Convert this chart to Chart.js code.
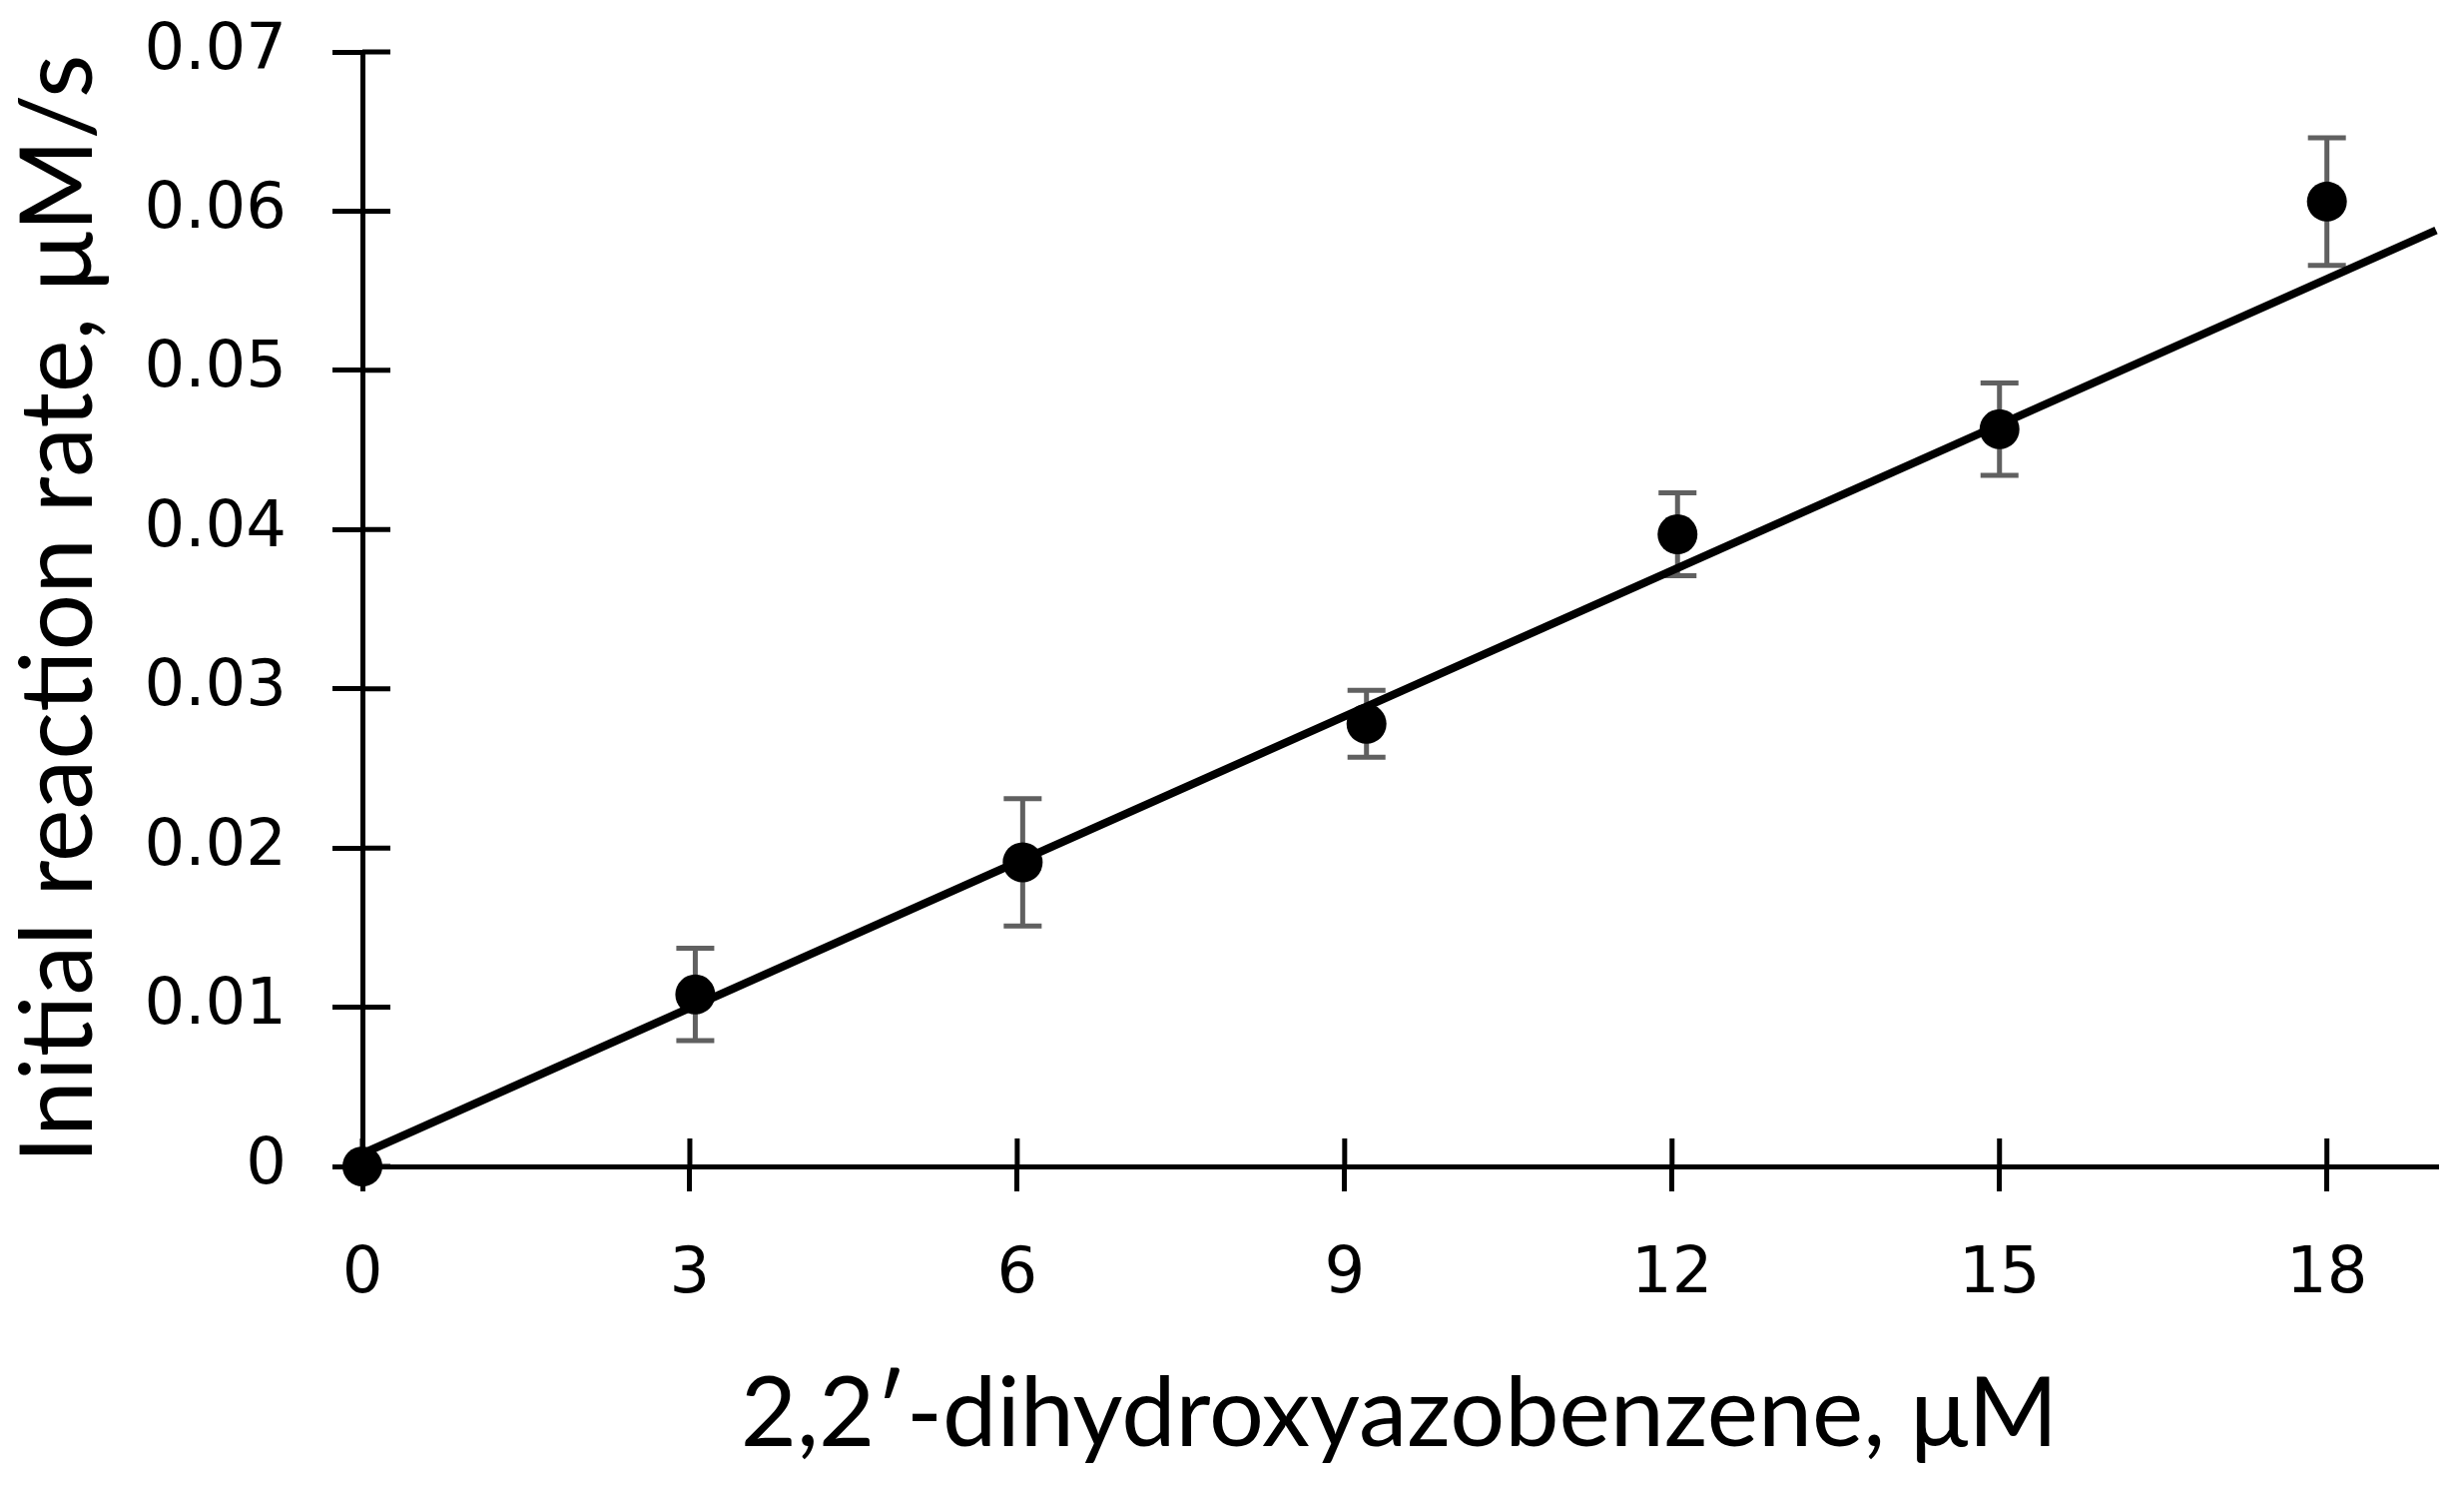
<!DOCTYPE html>
<html>
<head>
<meta charset="utf-8">
<script src="https://cdn.jsdelivr.net/npm/chart.js@4.4.1/dist/chart.umd.min.js"></script>
<style>
  body { margin: 0; background: #fff; }
  #wrap { width: 2468px; height: 1488px; }
</style>
</head>
<body>
<div id="wrap"><canvas id="chart" width="2468" height="1488"></canvas></div>
<script>
// measured points (concentration, rate) and their error bars
const xValues = [0, 3.05, 6.05, 9.2, 12.05, 15.0, 18.0];
const yValues = [0, 0.0108, 0.0191, 0.0278, 0.0397, 0.0463, 0.0606];
const yErrors = [0, 0.0029, 0.0040, 0.0021, 0.0026, 0.0029, 0.0040];

// fitted straight line, two ends
const trendX = [0, 19];
const trendY = [0.0008, 0.0588];

const xTicks = [0, 3, 6, 9, 12, 15, 18];
const yTicks = [0, 0.01, 0.02, 0.03, 0.04, 0.05, 0.06, 0.07];
const yTickLabels = ['0', '0.01', '0.02', '0.03', '0.04', '0.05', '0.06', '0.07'];

const xTitle = '2,2\u2032-dihydroxyazobenzene, \u03bcM';
const yTitle = 'Initial reaction rate, \u03bcM/s';

const TICK = 28;

// inner half of the crossing tick marks
const crossTicks = {
  id: 'crossTicks',
  beforeDatasetsDraw(chart) {
    const ctx = chart.ctx;
    const xs = chart.scales.x, ys = chart.scales.y;
    ctx.save();
    ctx.strokeStyle = '#000';
    ctx.lineWidth = 5;
    ctx.beginPath();
    xTicks.forEach(v => {
      const px = xs.getPixelForValue(v);
      ctx.moveTo(px, ys.bottom);
      ctx.lineTo(px, ys.bottom - TICK);
    });
    yTicks.forEach(v => {
      const py = ys.getPixelForValue(v);
      ctx.moveTo(xs.left, py);
      ctx.lineTo(xs.left + TICK, py);
    });
    ctx.stroke();
    ctx.restore();
  }
};

const errorBars = {
  id: 'errorBars',
  beforeDatasetsDraw(chart) {
    const ctx = chart.ctx;
    const xs = chart.scales.x, ys = chart.scales.y;
    ctx.save();
    ctx.strokeStyle = '#606060';
    ctx.lineWidth = 5;
    for (let i = 0; i < xValues.length; i++) {
      if (!yErrors[i]) continue;
      const px = xs.getPixelForValue(xValues[i]);
      const top = ys.getPixelForValue(yValues[i] + yErrors[i]);
      const bot = ys.getPixelForValue(yValues[i] - yErrors[i]);
      ctx.beginPath();
      ctx.moveTo(px, top); ctx.lineTo(px, bot);
      ctx.moveTo(px - 19, top); ctx.lineTo(px + 19, top);
      ctx.moveTo(px - 19, bot); ctx.lineTo(px + 19, bot);
      ctx.stroke();
    }
    ctx.restore();
  }
};

new Chart(document.getElementById('chart'), {
  type: 'scatter',
  data: {
    datasets: [
      {
        data: xValues.map((x, i) => ({ x: x, y: yValues[i] })),
        pointRadius: 20,
        pointHoverRadius: 20,
        backgroundColor: '#000',
        borderWidth: 0,
        clip: false
      },
      {
        type: 'line',
        data: trendX.map((x, i) => ({ x: x, y: trendY[i] })),
        showLine: true,
        borderColor: '#000',
        borderWidth: 8,
        pointRadius: 0,
        fill: false,
        clip: false
      }
    ]
  },
  options: {
    responsive: false,
    devicePixelRatio: 1,
    animation: false,
    layout: { padding: { left: 0, top: 52, right: 28, bottom: 0 } },
    plugins: { legend: { display: false }, tooltip: { enabled: false } },
    scales: {
      x: {
        type: 'linear',
        min: 0,
        max: 19,
        afterBuildTicks: s => { s.ticks = xTicks.map(v => ({ value: v })); },
        afterFit: s => { s.height = 320; s.paddingLeft = 0; s.paddingRight = 0; },
        grid: { drawOnChartArea: false, color: '#000', lineWidth: 5, tickLength: 25 },
        border: { color: '#000', width: 5 },
        ticks: {
          color: '#000',
          padding: 46,
          maxRotation: 0,
          font: { family: 'DejaVu Sans', size: 64 }
        },
        title: {
          display: true,
          text: xTitle,
          color: '#000',
          padding: { top: 0, bottom: 13 },
          font: { family: 'Lato', size: 97, lineHeight: 1.2 }
        }
      },
      y: {
        type: 'linear',
        min: 0,
        max: 0.07,
        afterBuildTicks: s => { s.ticks = yTicks.map(v => ({ value: v })); },
        afterFit: s => { s.width = 363; s.paddingTop = 0; s.paddingBottom = 0; },
        grid: { drawOnChartArea: false, color: '#000', lineWidth: 5, tickLength: 30 },
        border: { color: '#000', width: 5 },
        ticks: {
          color: '#000',
          padding: 46,
          font: { family: 'DejaVu Sans', size: 64 },
          callback: (v, i) => yTickLabels[i]
        },
        title: {
          display: true,
          text: yTitle,
          color: '#000',
          padding: 0,
          font: { family: 'Lato', size: 100, lineHeight: 1.2 }
        }
      }
    }
  },
  plugins: [crossTicks, errorBars]
});
</script>
</body>
</html>
